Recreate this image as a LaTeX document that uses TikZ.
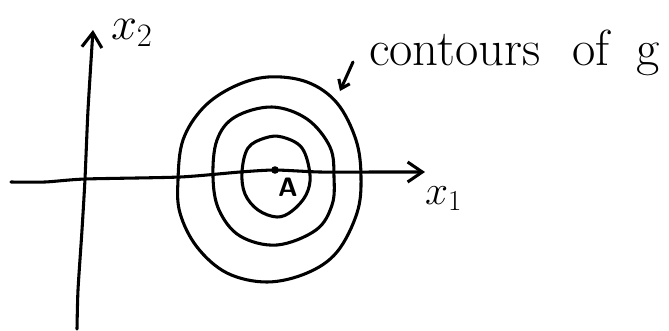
\RequirePackage{fix-cm}
\documentclass[tikz,border=0pt]{standalone}
\usepackage{fontspec}
\usetikzlibrary{arrows.meta}
\begin{document}
\begin{tikzpicture}[x=0.75pt,y=-0.75pt,
  ink/.style={line width=2.3pt,line cap=round,line join=round,black},
  axisarrow/.style={ink,-{Straight Barb[length=11pt,width=15pt,line width=2.3pt]}},
  pointer/.style={ink,-{Straight Barb[length=6pt,width=9pt,line width=2.3pt]}},
  contour/.style={ink,smooth cycle,tension=0.6},
  lbl/.style={inner sep=0pt,outer sep=0pt}]
\useasboundingbox (0,0) rectangle (669,330);
% axes
\draw[axisarrow] plot[smooth,tension=0.4] coordinates {(11,182) (45,182) (85,179) (180,177) (240,172) (275,170) (320,172) (380,172) (425,172)};
\draw[axisarrow] plot[smooth,tension=0.4] coordinates {(77,329) (78,290) (82,230) (85,179) (88,110) (93,30)};
% contours
\draw[ink] plot[contour] coordinates {(178,180) (183,140) (203,108) (233,87) (268,77) (307,82) (337,103) (356,140) (361,177) (357,213) (337,252) (307,273) (267,282) (227,273) (197,247) (180,213)};
\draw[ink] plot[contour] coordinates {(213,177) (217,140) (235,117) (272,107) (307,119) (330,147) (334,177) (332,205) (316,230) (277,245) (240,236) (219,210)};
\draw[ink] plot[contour] coordinates {(242,172) (248,148) (265,138) (282,137) (302,148) (310,175) (306,195) (292,211) (277,217) (258,210) (245,194)};
% point A
\fill (275,170) circle[radius=3.8];
\node[lbl,font=\sffamily\bfseries\fontsize{20}{20}\selectfont] (A) at (288,187) {A};
% axis labels
\node[lbl,anchor=base west,font=\fontsize{35}{35}\selectfont] (x2) at (111,39) {$x_2$};
\node[lbl,anchor=base west,font=\fontsize{31}{31}\selectfont] (x1) at (425,204) {$x_1$};
% contours label
\node[lbl,anchor=base west,font=\fontsize{38}{38}\selectfont] (cl) at (369,65) {contours\hspace{24pt}of\hspace{20pt}g};
\coordinate (ptip) at (340,91);
\draw[pointer] (cl.base west) ++(-16,-3) -- (ptip);
\end{tikzpicture}
\end{document}
